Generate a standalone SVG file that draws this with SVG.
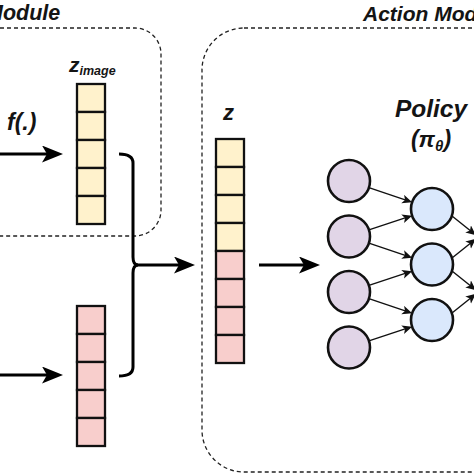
<svg xmlns="http://www.w3.org/2000/svg" width="474" height="474" viewBox="0 0 474 474">
<style>
  .t { font-family: "Liberation Sans", Arial, sans-serif; font-weight: bold; font-style: italic; fill: #141414; }
  .box { fill: none; stroke: #222; stroke-width: 1.3; stroke-dasharray: 4 3; }
  .y { fill: #fff2cc; stroke: #111; stroke-width: 2.3; }
  .p { fill: #f8cecc; stroke: #111; stroke-width: 2.3; }
  .n1 { fill: #e1d5e7; stroke: #111; stroke-width: 2.6; }
  .n2 { fill: #dae8fc; stroke: #111; stroke-width: 2.6; }
  .big { fill: none; stroke: #000; stroke-width: 3; marker-end: url(#bigArrow); }
  .sm { fill: none; stroke: #111; stroke-width: 1.4; marker-end: url(#smArrow); }
</style>
<defs>
  <marker id="bigArrow" markerUnits="userSpaceOnUse" markerWidth="22" markerHeight="18" refX="11" refY="8.5" orient="auto">
    <path d="M0,0 L21,8.5 L0,17 L5,8.5 Z" fill="#000"/>
  </marker>
  <marker id="smArrow" markerUnits="userSpaceOnUse" markerWidth="11" markerHeight="10" refX="5" refY="4.5" orient="auto">
    <path d="M0,0 L10,4.5 L0,9 L2.5,4.5 Z" fill="#111"/>
  </marker>
</defs>
<rect width="474" height="474" fill="#fff"/>

<g id="perception-module">
  <rect class="box" x="-40" y="28" width="201" height="208" rx="26"/>
  <text class="t" x="-15" y="20" font-size="21.5">Module</text>
</g>
<g id="action-module">
  <rect class="box" x="202" y="28" width="330" height="444" rx="42"/>
  <text class="t" x="363" y="21" font-size="21">Action Module</text>
</g>

<g id="z-image">
  <text class="t" x="69" y="72" font-size="21">z<tspan font-size="12.5" dy="3">image</tspan></text>
  <rect class="y" x="77" y="84" width="28" height="28"/>
  <rect class="y" x="77" y="112" width="28" height="28"/>
  <rect class="y" x="77" y="140" width="28" height="28"/>
  <rect class="y" x="77" y="168" width="28" height="28"/>
  <rect class="y" x="77" y="196" width="28" height="28"/>
</g>
<g id="z-other">
  <rect class="p" x="77" y="306" width="28" height="28"/>
  <rect class="p" x="77" y="334" width="28" height="28"/>
  <rect class="p" x="77" y="362" width="28" height="28"/>
  <rect class="p" x="77" y="390" width="28" height="28"/>
  <rect class="p" x="77" y="418" width="28" height="28"/>
</g>
<g id="z">
  <text class="t" x="223" y="120" font-size="22">z</text>
  <rect class="y" x="216" y="139" width="28" height="28"/>
  <rect class="y" x="216" y="167" width="28" height="28"/>
  <rect class="y" x="216" y="195" width="28" height="28"/>
  <rect class="y" x="216" y="223" width="28" height="28"/>
  <rect class="p" x="216" y="251" width="28" height="28"/>
  <rect class="p" x="216" y="279" width="28" height="28"/>
  <rect class="p" x="216" y="307" width="28" height="28"/>
  <rect class="p" x="216" y="335" width="28" height="28"/>
</g>

<g id="policy-label">
  <text class="t" x="431" y="117" font-size="24.5" text-anchor="middle">Policy</text>
  <text class="t" x="431" y="147" font-size="23" text-anchor="middle">(π<tspan font-size="15" dy="4">θ</tspan><tspan dy="-4">)</tspan></text>
</g>

<g id="layer1">
  <circle class="n1" cx="349" cy="181" r="21"/>
  <circle class="n1" cx="349" cy="236.5" r="21"/>
  <circle class="n1" cx="349" cy="292" r="21"/>
  <circle class="n1" cx="349" cy="347.5" r="21"/>
</g>
<g id="layer2">
  <circle class="n2" cx="432" cy="209" r="21"/>
  <circle class="n2" cx="432" cy="264.5" r="21"/>
  <circle class="n2" cx="432" cy="320" r="21"/>
</g>

<g id="connectors">
  <text class="t" x="7" y="130" font-size="23">f(.)</text>
  <line class="big" x1="-5" y1="154" x2="53" y2="154"/>
  <line class="big" x1="-5" y1="375" x2="53" y2="375"/>
  <path d="M119,154 Q133,154 133,163 V257 Q133,265 138,265 Q133,265 133,273 V367 Q133,376 119,376" fill="none" stroke="#000" stroke-width="3"/>
  <line class="big" x1="137" y1="265" x2="185" y2="265"/>
  <line class="big" x1="259" y1="265" x2="310" y2="265"/>

  <line class="sm" x1="368.9" y1="187.7" x2="407.4" y2="200.7"/>
  <line class="sm" x1="368.9" y1="229.9" x2="407.4" y2="217.2"/>
  <line class="sm" x1="368.9" y1="243.2" x2="407.4" y2="256.2"/>
  <line class="sm" x1="368.9" y1="285.4" x2="407.4" y2="272.7"/>
  <line class="sm" x1="368.9" y1="298.7" x2="407.4" y2="311.7"/>
  <line class="sm" x1="368.9" y1="340.9" x2="407.4" y2="328.2"/>

  <line class="sm" x1="452" y1="216" x2="472" y2="232"/>
  <line class="sm" x1="452" y1="258" x2="472" y2="242"/>
  <line class="sm" x1="452" y1="271" x2="472" y2="287"/>
  <line class="sm" x1="452" y1="313" x2="472" y2="297"/>
</g>
</svg>
